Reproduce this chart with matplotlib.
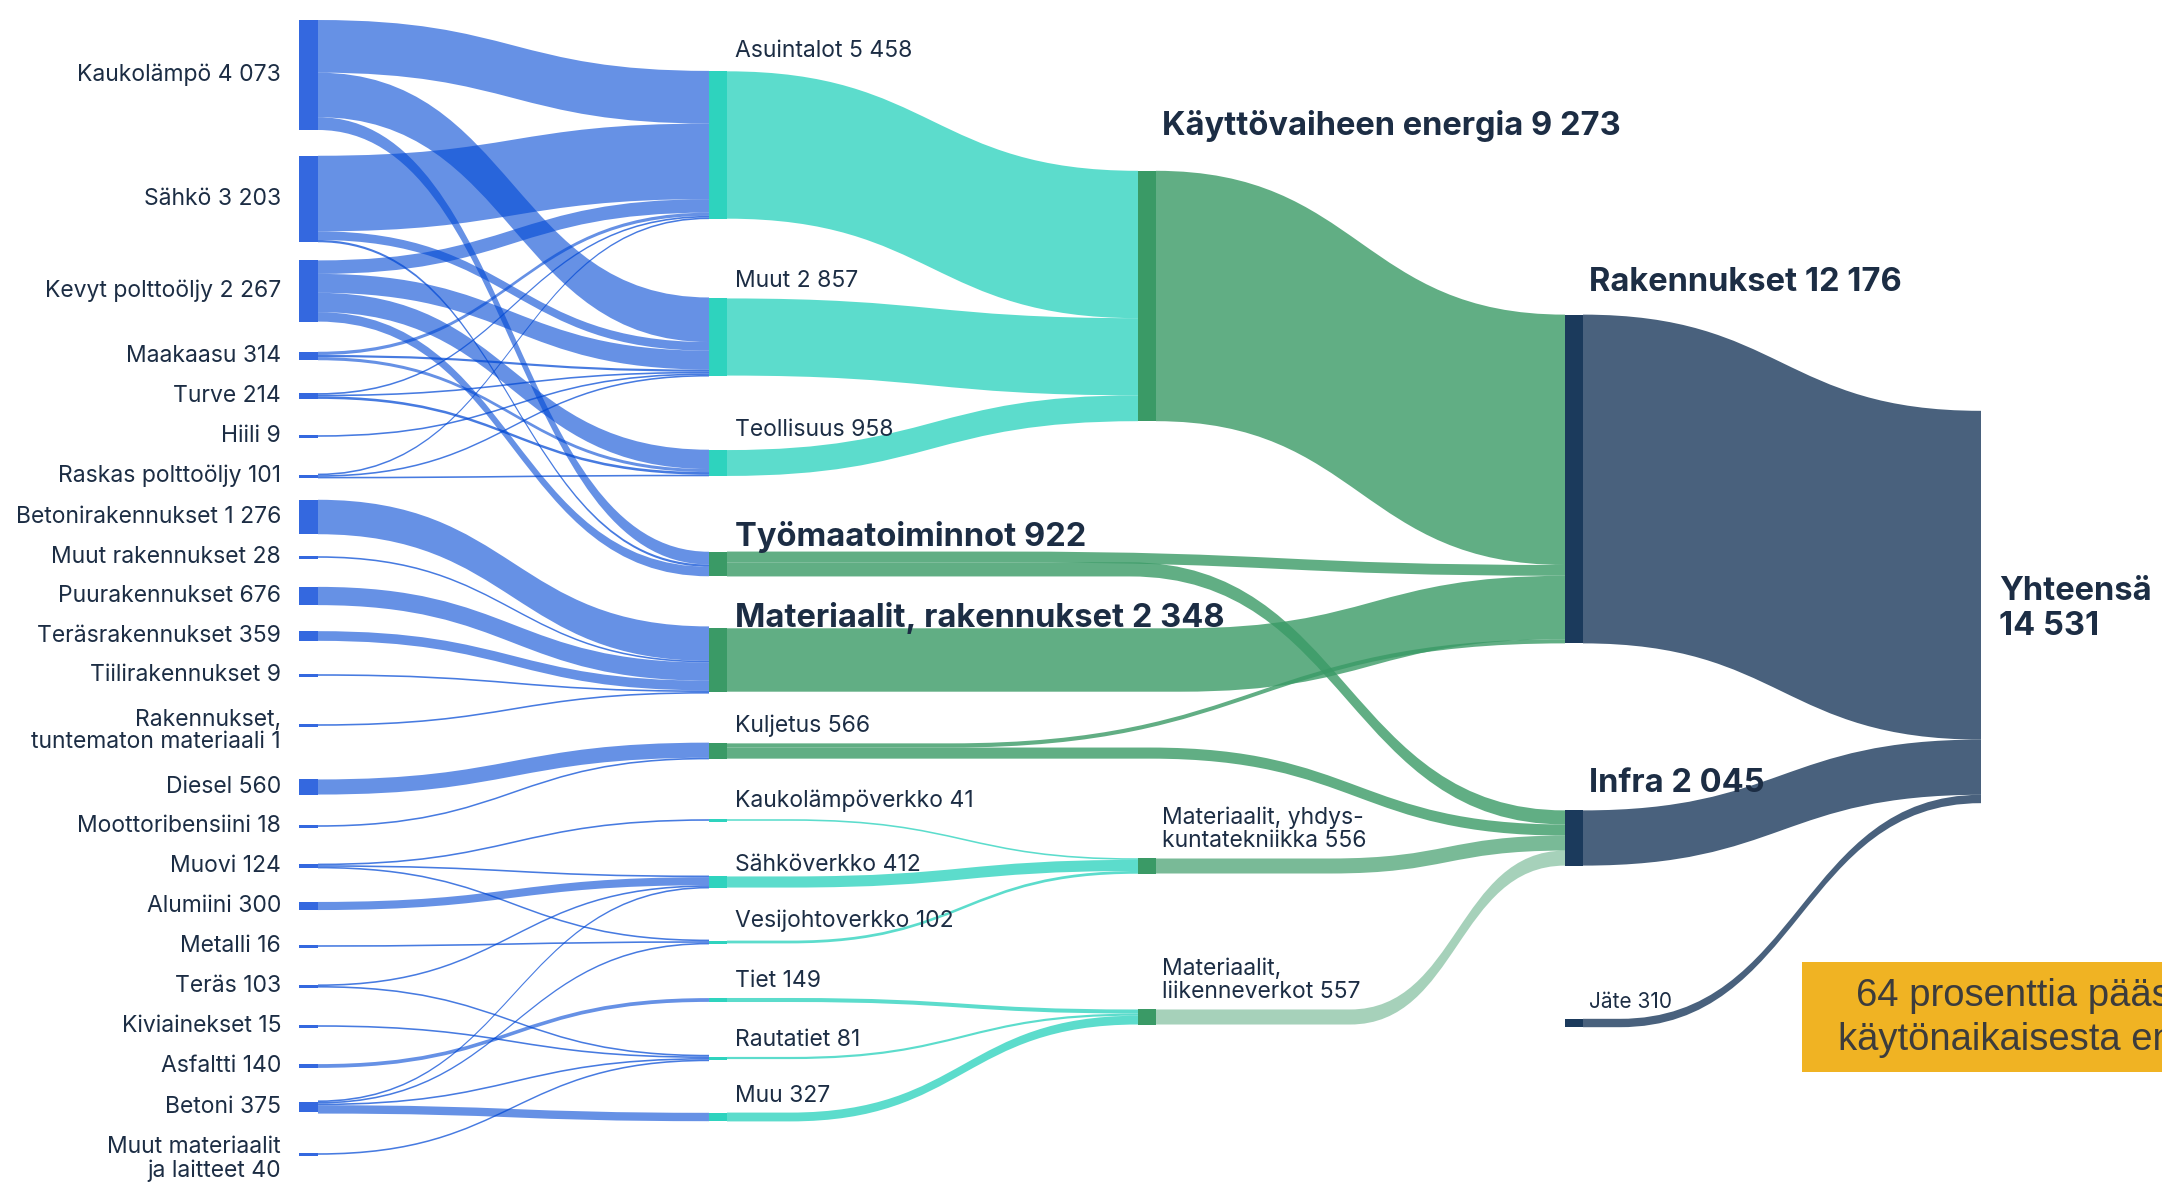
import matplotlib.pyplot as plt
from matplotlib.path import Path
from matplotlib.patches import PathPatch, Rectangle

# ---------------- data (emissions, kt CO2e) ----------------
energy_sources = ["Kaukolämpö", "Sähkö", "Kevyt polttoöljy", "Maakaasu", "Turve", "Hiili",
                  "Raskas polttoöljy"]
energy_values = [4073, 3203, 2267, 314, 214, 9, 101]

building_materials = ["Betonirakennukset", "Muut rakennukset", "Puurakennukset", "Teräsrakennukset",
                      "Tiilirakennukset", "Rakennukset,\ntuntematon materiaali"]
building_material_values = [1276, 28, 676, 359, 9, 1]

fuels = ["Diesel", "Moottoribensiini"]
fuel_values = [560, 18]

infra_materials = ["Muovi", "Alumiini", "Metalli", "Teräs", "Kiviainekset", "Asfaltti", "Betoni",
                   "Muut materiaalit\nja laitteet"]
infra_material_values = [124, 300, 16, 103, 15, 140, 375, 40]

building_types = ["Asuintalot", "Muut", "Teollisuus"]
building_type_values = [5458, 2857, 958]

construction = ["Työmaatoiminnot", "Materiaalit, rakennukset", "Kuljetus"]
construction_values = [922, 2348, 566]

networks = ["Kaukolämpöverkko", "Sähköverkko", "Vesijohtoverkko", "Tiet", "Rautatiet", "Muu"]
network_values = [41, 412, 102, 149, 81, 327]

groups = ["Käyttövaiheen energia", "Materiaalit, yhdys-\nkuntatekniikka", "Materiaalit,\nliikenneverkot"]
group_values = [9273, 556, 557]

sectors = ["Rakennukset", "Infra", "Jäte"]
sector_values = [12176, 2045, 310]

total_name = "Yhteensä"
total_value = 14531

energy_links = [
    ("Kaukolämpö", "Asuintalot", 1950), ("Kaukolämpö", "Muut", 1650),
    ("Kaukolämpö", "Työmaatoiminnot", 473),
    ("Sähkö", "Asuintalot", 2800), ("Sähkö", "Muut", 320), ("Sähkö", "Työmaatoiminnot", 83),
    ("Kevyt polttoöljy", "Asuintalot", 500), ("Kevyt polttoöljy", "Muut", 700),
    ("Kevyt polttoöljy", "Teollisuus", 715), ("Kevyt polttoöljy", "Työmaatoiminnot", 352),
    ("Maakaasu", "Asuintalot", 120), ("Maakaasu", "Muut", 80), ("Maakaasu", "Teollisuus", 114),
    ("Turve", "Asuintalot", 60), ("Turve", "Muut", 58), ("Turve", "Teollisuus", 96),
    ("Hiili", "Muut", 9),
    ("Raskas polttoöljy", "Asuintalot", 28), ("Raskas polttoöljy", "Muut", 40),
    ("Raskas polttoöljy", "Teollisuus", 33),
]
material_links = [(m, "Materiaalit, rakennukset", v)
                  for m, v in zip(building_materials, building_material_values)]
fuel_links = [(f, "Kuljetus", v) for f, v in zip(fuels, fuel_values)]
infra_links = [
    ("Muovi", "Kaukolämpöverkko", 41), ("Muovi", "Sähköverkko", 50), ("Muovi", "Vesijohtoverkko", 33),
    ("Alumiini", "Sähköverkko", 300), ("Metalli", "Vesijohtoverkko", 16),
    ("Teräs", "Sähköverkko", 53), ("Teräs", "Rautatiet", 50),
    ("Kiviainekset", "Rautatiet", 15), ("Asfaltti", "Tiet", 140),
    ("Betoni", "Sähköverkko", 9), ("Betoni", "Vesijohtoverkko", 53), ("Betoni", "Rautatiet", 3),
    ("Betoni", "Muu", 310),
    ("Muut materiaalit\nja laitteet", "Rautatiet", 40),
]
use_links = [(b, "Käyttövaiheen energia", v) for b, v in zip(building_types, building_type_values)]
network_links = [(n, groups[1] if i < 3 else groups[2], v)
                 for i, (n, v) in enumerate(zip(networks, network_values))]
sector_links = [
    ("Käyttövaiheen energia", "Rakennukset", 9273),
    ("Työmaatoiminnot", "Rakennukset", 400), ("Työmaatoiminnot", "Infra", 522),
    ("Materiaalit, rakennukset", "Rakennukset", 2348),
    ("Kuljetus", "Rakennukset", 155), ("Kuljetus", "Infra", 411),
    (groups[1], "Infra", 556), (groups[2], "Infra", 557),
]
total_links = [(s, total_name, v) for s, v in zip(sectors, sector_values)]

# ---------------- layout ----------------
S = 0.027          # pixels per kt
col_x = [299, 709, 1138, 1565, 1981]
node_w = [19, 18, 18, 18, 0]

centers = {
    "Kaukolämpö": 75, "Sähkö": 199, "Kevyt polttoöljy": 291, "Maakaasu": 356, "Turve": 396,
    "Hiili": 436, "Raskas polttoöljy": 476, "Betonirakennukset": 517, "Muut rakennukset": 557,
    "Puurakennukset": 596, "Teräsrakennukset": 636, "Tiilirakennukset": 675,
    "Rakennukset,\ntuntematon materiaali": 725, "Diesel": 787, "Moottoribensiini": 826,
    "Muovi": 866, "Alumiini": 906, "Metalli": 946, "Teräs": 986, "Kiviainekset": 1026,
    "Asfaltti": 1066, "Betoni": 1107, "Muut materiaalit\nja laitteet": 1154,
    "Asuintalot": 145, "Muut": 337, "Teollisuus": 463, "Työmaatoiminnot": 564,
    "Materiaalit, rakennukset": 660, "Kuljetus": 751, "Kaukolämpöverkko": 820,
    "Sähköverkko": 882, "Vesijohtoverkko": 942, "Tiet": 1000, "Rautatiet": 1058, "Muu": 1117,
    "Käyttövaiheen energia": 296, groups[1]: 866, groups[2]: 1017,
    "Rakennukset": 479, "Infra": 838, "Jäte": 1023,
    total_name: 607,
}
label_shift = {"Rakennukset,\ntuntematon materiaali": 6, "Muut materiaalit\nja laitteet": 5}
bold_nodes = {"Työmaatoiminnot", "Materiaalit, rakennukset", "Käyttövaiheen energia",
              "Rakennukset", "Infra"}
# distance from node top to label baseline
label_gap = {"Työmaatoiminnot": 6, "Materiaalit, rakennukset": 1, "Käyttövaiheen energia": 36,
             "Rakennukset": 24, "Infra": 18, "Asuintalot": 14, "Teollisuus": 14,
             "Sähköverkko": 5, "Vesijohtoverkko": 14}
# x where the s-curve of a long link begins (otherwise it starts at the source)
curve_start = {
    ("Työmaatoiminnot", "Rakennukset"): 1000, ("Työmaatoiminnot", "Infra"): 1130,
    ("Materiaalit, rakennukset", "Rakennukset"): 1180, ("Kuljetus", "Rakennukset"): 950,
    ("Kuljetus", "Infra"): 1150, (groups[1], "Infra"): 1330, (groups[2], "Infra"): 1350,
    ("Jäte", total_name): 1620,
}
for n in networks:
    curve_start[(n, groups[1] if n in networks[:3] else groups[2])] = 790

BLUE, TEAL, GREEN, NAVY = "#3468DF", "#2ED3BE", "#3A9A66", "#1B3A5C"
link_style = {BLUE: ("#0048D5", 0.6), TEAL: (TEAL, 0.78), GREEN: (GREEN, 0.8), NAVY: (NAVY, 0.8)}
TEXT = "#1C2D44"
BOLD_SIZE = 23.5

plt.rcParams["font.family"] = ["Inter", "DejaVu Sans"]

# ---------------- nodes ----------------
node_value, node_col, node_color = {}, {}, {}
for names, values, c, color in [
        (energy_sources, energy_values, 0, BLUE), (building_materials, building_material_values, 0, BLUE),
        (fuels, fuel_values, 0, BLUE), (infra_materials, infra_material_values, 0, BLUE),
        (building_types, building_type_values, 1, TEAL), (construction, construction_values, 1, GREEN),
        (networks, network_values, 1, TEAL), (groups, group_values, 2, GREEN),
        (sectors, sector_values, 3, NAVY), ([total_name], [total_value], 4, NAVY)]:
    for n, v in zip(names, values):
        node_value[n], node_col[n], node_color[n] = v, c, color

node_h = {n: max(v * S, 3) for n, v in node_value.items()}
node_top = {n: centers[n] - node_h[n] / 2 for n in node_value}

links = (energy_links + material_links + fuel_links + infra_links + use_links + network_links
         + sector_links + total_links)


def thick(v):
    return max(v * S, 1.6)


def fmt(v):
    return f"{v:,}".replace(",", " ")


out_y, in_y = {}, {}
for n in node_value:
    outs = sorted([l for l in links if l[0] == n], key=lambda l: centers[l[1]])
    y = centers[n] - sum(thick(l[2]) for l in outs) / 2
    for l in outs:
        out_y[l] = y
        y += thick(l[2])
    ins = sorted([l for l in links if l[1] == n], key=lambda l: centers[l[0]])
    y = centers[n] - sum(thick(l[2]) for l in ins) / 2
    for l in ins:
        in_y[l] = y
        y += thick(l[2])

fig = plt.figure(figsize=(21.62, 11.82), dpi=100)
ax = fig.add_axes([0, 0, 1, 1])
ax.set_xlim(0, 2162)
ax.set_ylim(1182, 0)
ax.axis("off")

for l in links:
    src, tgt, v = l
    t = thick(v)
    x0 = col_x[node_col[src]] + node_w[node_col[src]]
    x1 = col_x[node_col[tgt]]
    xs = curve_start.get((src, tgt), x0)
    y0, y1 = out_y[l], in_y[l]
    mx = (xs + x1) / 2
    verts = [(x0, y0), (xs, y0), (mx, y0), (mx, y1), (x1, y1),
             (x1, y1 + t), (mx, y1 + t), (mx, y0 + t), (xs, y0 + t), (x0, y0 + t), (x0, y0)]
    codes = [Path.MOVETO, Path.LINETO, Path.CURVE4, Path.CURVE4, Path.CURVE4,
             Path.LINETO, Path.CURVE4, Path.CURVE4, Path.CURVE4, Path.LINETO, Path.CLOSEPOLY]
    color, alpha = link_style[node_color[src]]
    if src == groups[1]:
        alpha = 0.68
    elif src == groups[2]:
        alpha = 0.45
    if t < 3 and node_color[src] == BLUE:
        alpha = 0.72
    ax.add_patch(PathPatch(Path(verts, codes), facecolor=color, alpha=alpha, lw=0, zorder=1))

for n in node_value:
    c = node_col[n]
    if node_w[c] > 0:
        ax.add_patch(Rectangle((col_x[c], node_top[n]), node_w[c], node_h[n],
                               facecolor=node_color[n], lw=0, zorder=3))

# ---------------- labels ----------------
for n, v in node_value.items():
    c = node_col[n]
    text = f"{n} {fmt(v)}"
    if c == 0:
        ax.text(281, centers[n] + label_shift.get(n, 0), text, ha="right", va="center",
                fontsize=16.5, color=TEXT, linespacing=1.05, zorder=4)
    elif c == 4:
        ax.text(1999, centers[n] + 2, f"{n}\n{fmt(v)}", ha="left", va="center",
                fontsize=BOLD_SIZE, fontweight="bold", color=TEXT, linespacing=1.2, zorder=4)
    else:
        x = col_x[c] + (26 if c == 1 else 24)
        if n in bold_nodes:
            ax.text(x, node_top[n] - label_gap[n], text, ha="left", va="baseline",
                    fontsize=BOLD_SIZE, fontweight="bold", color=TEXT, zorder=4)
        else:
            size = 15 if n == "Jäte" else 16.5
            ax.text(x, node_top[n] - label_gap.get(n, 11), text, ha="left", va="baseline",
                    fontsize=size, color=TEXT, linespacing=1.1, zorder=4)

# highlight box, cut by the right edge as in the original
ax.add_patch(Rectangle((1802, 962), 420, 110, facecolor="#F0B323", lw=0, zorder=5))
ax.text(1856, 996, "64 prosenttia päästöistä", ha="left", va="center", fontsize=27.5,
        family="Liberation Sans", color="#3C3C3C", zorder=6)
ax.text(1838, 1040, "käytönaikaisesta energiasta", ha="left", va="center", fontsize=27.5,
        family="Liberation Sans", color="#3C3C3C", zorder=6)

fig.savefig("out.png", dpi=100)
